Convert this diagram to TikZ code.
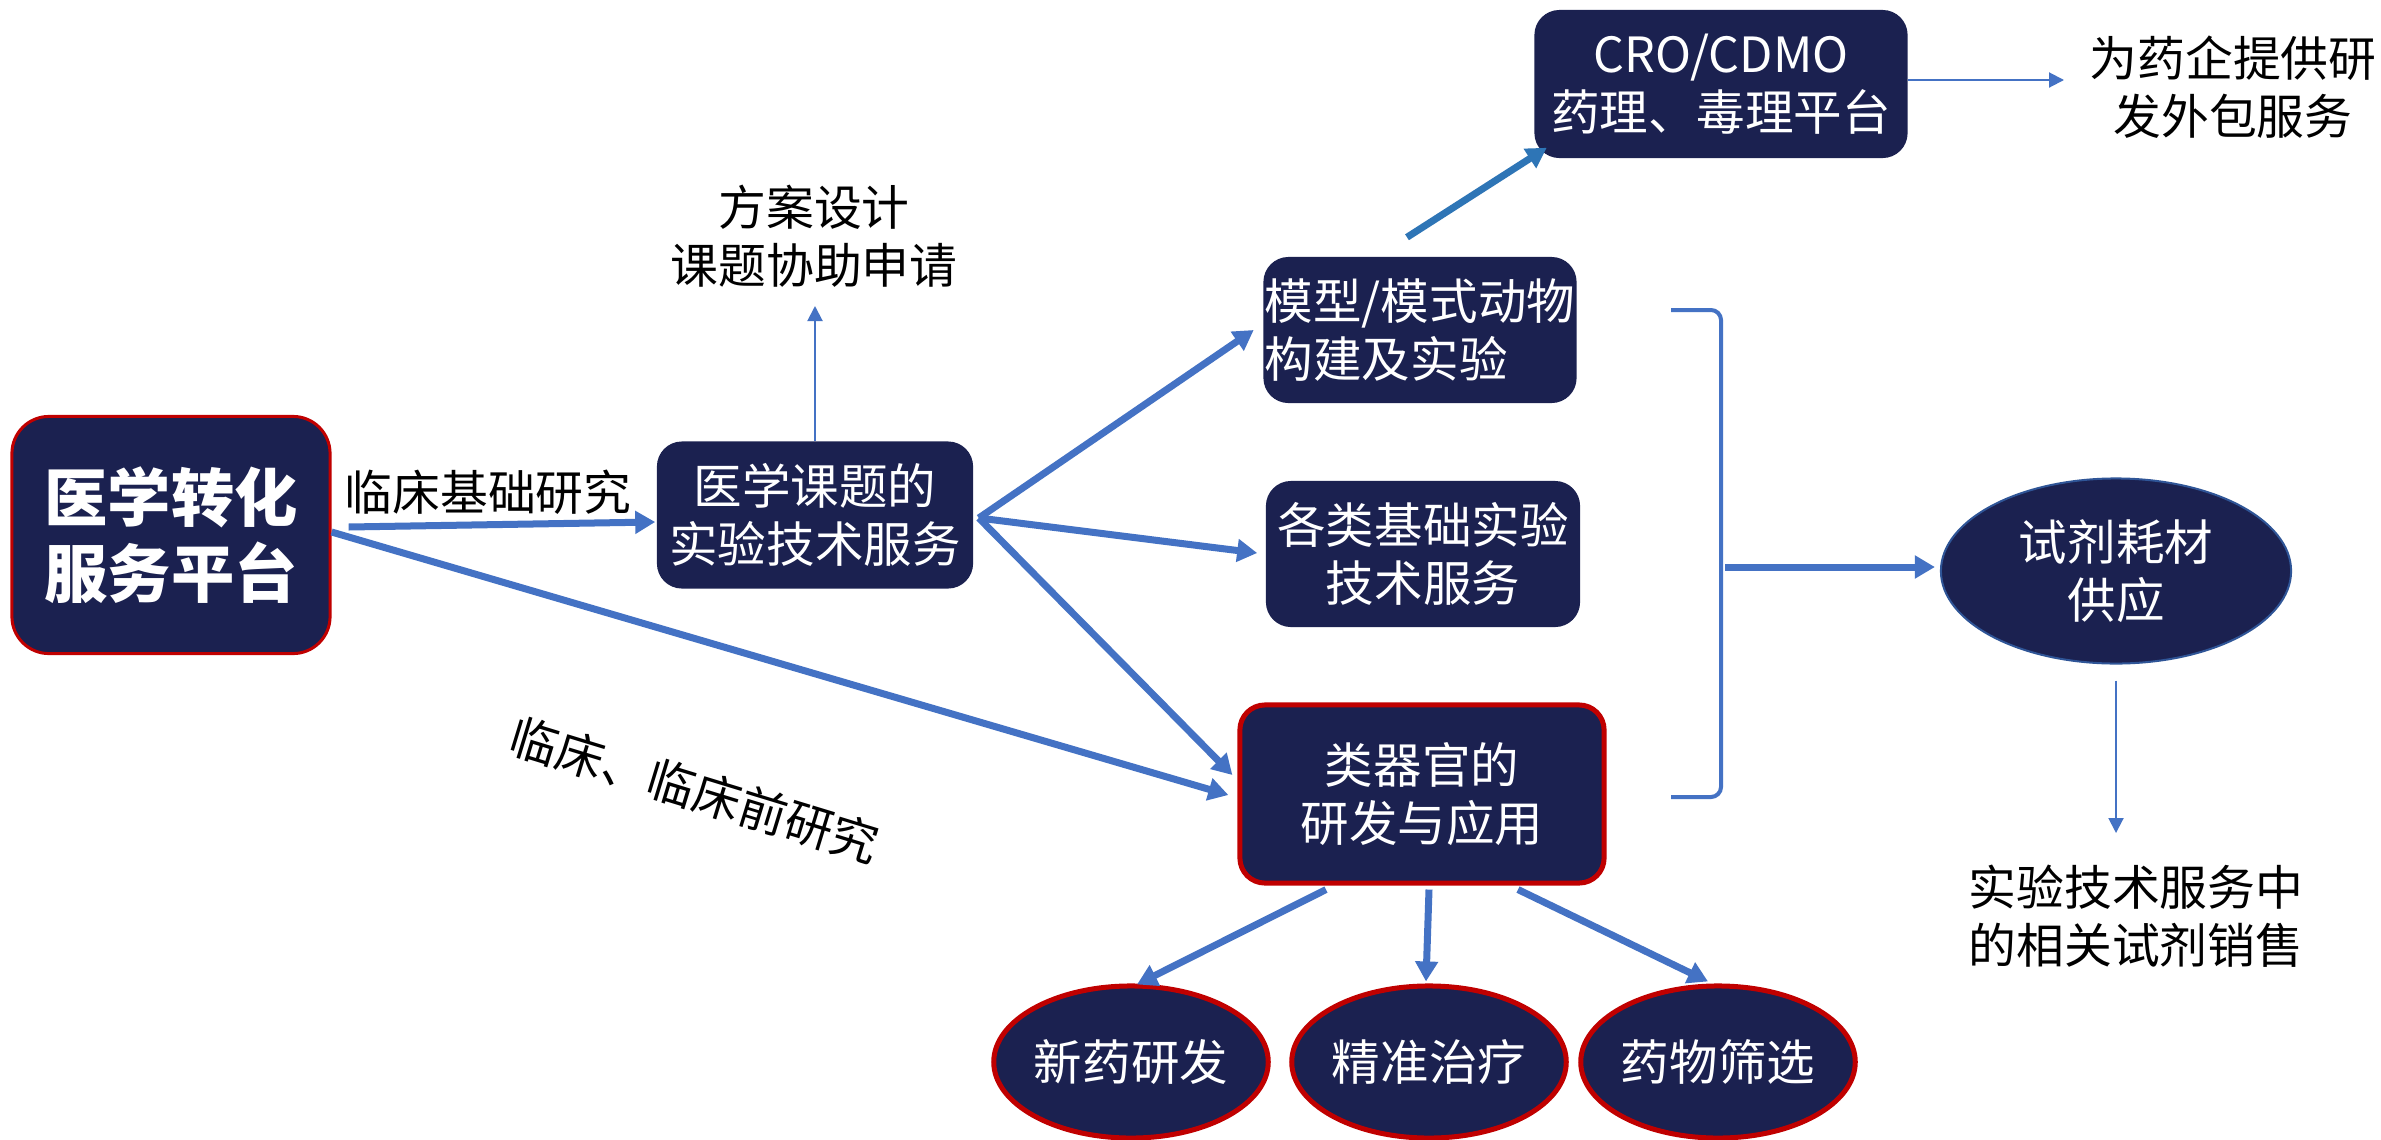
\documentclass[tikz,border=0pt]{standalone}
\usepackage{fontspec}
\setmainfont{Noto Sans CJK SC}
\usetikzlibrary{arrows.meta,calc,shapes.geometric}
\definecolor{navy}{HTML}{1B2150}
\definecolor{myblue}{HTML}{4472C4}
\definecolor{darkarrow}{HTML}{2E75B6}
\definecolor{myred}{HTML}{C00000}
\definecolor{ellborder}{HTML}{2F5597}
\begin{document}
\begin{tikzpicture}[x=0.01cm,y=-0.01cm,
  box/.style={rectangle, rounded corners=0.25cm, fill=navy, text=white, align=center, inner sep=0pt, font=\fontsize{13.8}{16.5}\selectfont},
  redbox/.style={box, draw=myred, line width=0.05cm},
  redell/.style={ellipse, fill=navy, draw=myred, line width=0.05cm, text=white, align=center, inner sep=0pt, font=\fontsize{13.8}{16.5}\selectfont},
  txt/.style={text=black, align=center, inner sep=0pt, font=\fontsize{13.6}{16.5}\selectfont},
  arr/.style={-{Triangle[width=0.22cm,length=0.2cm]}, line width=0.07cm, draw=myblue},
  thinarr/.style={-{Triangle[width=0.15cm,length=0.15cm]}, line width=0.02cm, draw=myblue}]
\useasboundingbox[fill=white] (0,0) rectangle (2381,1139);

% boxes
\node[redbox, minimum width=3.18cm, minimum height=2.37cm, rounded corners=0.37cm, line width=0.03cm,
      font=\fontsize{18}{21.6}\selectfont\bfseries] (main) at (171,535) {医学转化\\服务平台};
\node[box, minimum width=3.16cm, minimum height=1.47cm] (yxkt) at (815,515) {医学课题的\\实验技术服务};
\node[box, minimum width=3.13cm, minimum height=1.46cm, align=left] (moxing) at (1420,330) {模型/模式动物\\构建及实验};
\node[box, minimum width=3.14cm, minimum height=1.46cm] (gelei) at (1423,554) {各类基础实验\\技术服务};
\node[redbox, minimum width=3.64cm, minimum height=1.78cm] (leiqg) at (1422,794) {类器官的\\研发与应用};
\node[box, minimum width=3.73cm, minimum height=1.48cm] (cro) at (1721,84) {CRO/CDMO\\药理、毒理平台};
\node[ellipse, fill=navy, draw=ellborder, line width=0.02cm, minimum width=3.5cm, minimum height=1.85cm,
      text=white, align=center, inner sep=0pt, font=\fontsize{13.8}{16.5}\selectfont] (shiji) at (2116,571) {试剂耗材\\供应};
\node[redell, minimum width=2.72cm, minimum height=1.52cm] (xinyao) at (1131,1062) {新药研发};
\node[redell, minimum width=2.70cm, minimum height=1.52cm] (jingzhun) at (1429,1062) {精准治疗};
\node[redell, minimum width=2.70cm, minimum height=1.52cm] (yaowu) at (1718,1062) {药物筛选};

% plain texts
\node[txt] (fangan) at (814,236) {方案设计\\课题协助申请};
\node[txt] (waibao) at (2233,87) {为药企提供研\\发外包服务};
\node[txt] (xiaoshou) at (2136,916) {实验技术服务中\\的相关试剂销售};
\node[txt] (lcjc) at (488,492) {临床基础研究};
\node[txt, rotate=-17] (lcq) at (695,790) {临床、临床前研究};

% helper coordinates
\coordinate (fanganin) at (815,306);
\coordinate (waibaoin) at (2064,80);
\coordinate (xsin) at (2118,833);
\coordinate (brT) at (1671,310);
\coordinate (brB) at (1671,797);
\coordinate (brM) at (1721,567);

% connectors
\draw[arr] ($(main.east)+(17,-8)$) -- ($(yxkt.west)+(-1,7)$);
\draw[arr] ($(main.east)+(0,-3)$) -- ($(leiqg.west)+(-9,1)$);
\draw[thinarr] (yxkt.north) -- (yxkt.north |- fanganin);
\draw[arr] ($(yxkt.east)+(5,3)$) -- ($(moxing.west)+(-9,0)$);
\draw[arr] ($(yxkt.east)+(5,3)$) -- ($(gelei.west)+(-8,-1)$);
\draw[arr] ($(yxkt.east)+(5,3)$) -- ($(leiqg.west)+(-5,-19)$);
\draw[-{Triangle[width=0.22cm,length=0.2cm]}, line width=0.07cm, draw=darkarrow]
  ($(moxing.north)+(-13,-19)$) -- ($(cro.south west)+(13,-11)$);
\draw[thinarr] ($(cro.east)+(0,-4)$) -- (waibaoin);
\draw[line width=0.04cm, myblue, rounded corners=0.1cm] (brT) -- (brT -| brM) -- (brB -| brM) -- (brB);
\draw[arr] ($(brM)+(4,0)$) -- ($(brM -| shiji.west)+(-5,0)$);
\draw[thinarr, shorten <=0.16cm] (shiji.south) -- (shiji.south |- xsin);
\draw[arr] ($(leiqg.south)+(-96,4)$) -- ($(xinyao.north)+(6,1)$);
\draw[arr] ($(leiqg.south)+(7,4)$) -- ($(jingzhun.north)+(-3,-2)$);
\draw[arr] ($(leiqg.south)+(96,4)$) -- ($(yaowu.north)+(-10,-2)$);
\end{tikzpicture}
\end{document}
